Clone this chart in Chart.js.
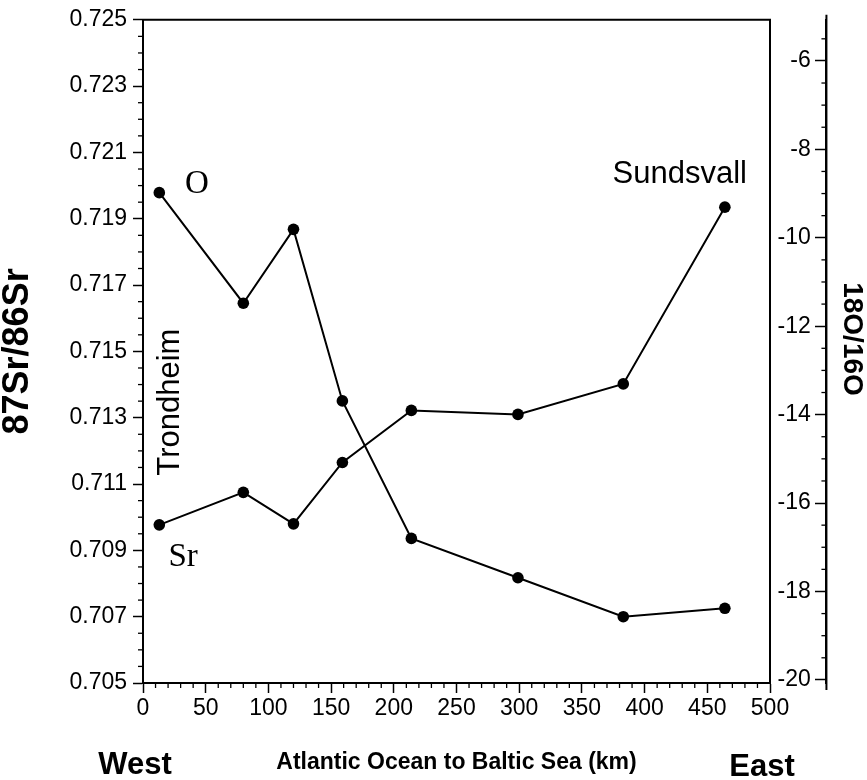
<!DOCTYPE html>
<html><head><meta charset="utf-8">
<script src="https://cdn.jsdelivr.net/npm/chart.js@4.4.1/dist/chart.umd.min.js"></script>
<style>html,body{margin:0;padding:0;background:#fff}canvas{display:block}</style>
</head><body>
<canvas id="c" width="867" height="780"></canvas>
<script>
// ---- data ----
const distanceKm = [13, 80, 120, 159, 214, 299, 383, 464];
const srRatio    = [0.70977, 0.71075, 0.70980, 0.71165, 0.71322, 0.71310, 0.71402, 0.71935];
const oRatio     = [-8.98, -11.48, -9.81, -13.69, -16.80, -17.69, -18.57, -18.38];
const xTicks  = [0, 50, 100, 150, 200, 250, 300, 350, 400, 450, 500];
const srTicks = [0.705, 0.707, 0.709, 0.711, 0.713, 0.715, 0.717, 0.719, 0.721, 0.723, 0.725];
const oTicks  = [-20, -18, -16, -14, -12, -10, -8, -6];

const SANS = "'Liberation Sans', Arial, Helvetica, sans-serif";
const SERIF = "'Liberation Serif', 'Times New Roman', serif";

// in-plot labels placed in data units
const plotLabels = [
  {text: 'O',         x: 43,   y: 0.72005, font: '33px ' + SERIF, rot: 0},
  {text: 'Sr',        x: 32,   y: 0.70878, font: '33px ' + SERIF, rot: 0},
  {text: 'Trondheim', x: 21.5, y: 0.71347, font: '31px ' + SANS,  rot: -Math.PI / 2},
  {text: 'Sundsvall', x: 428,  y: 0.72035, font: '31px ' + SANS,  rot: 0}
];

const O_AXIS_AT = 545;        // x-value (km) where the 18O/16O axis line stands
const O_LABELS_AT = 532.5;    // x-value (km) of the right edge of its tick labels

const decor = {
  id: 'decor',
  afterDraw(chart) {
    const {ctx, chartArea: a, scales} = chart;
    const x = scales.x, y = scales.y, y2 = scales.y2;
    ctx.save();
    ctx.strokeStyle = '#000';
    ctx.fillStyle = '#000';
    const line = (x1, y1, x2, y2_) => { ctx.beginPath(); ctx.moveTo(x1, y1); ctx.lineTo(x2, y2_); ctx.stroke(); };
    // frame: top and right border
    ctx.lineWidth = 2;
    ctx.beginPath(); ctx.moveTo(a.left - 1, a.top); ctx.lineTo(a.right, a.top); ctx.lineTo(a.right, a.bottom); ctx.stroke();
    // right axis line extension
    const axX = x.getPixelForValue(O_AXIS_AT);
    line(axX, a.top - 5, axX, a.bottom + 7);
    // minor ticks
    ctx.lineWidth = 1.3;
    for (let v = 0; v <= 500; v += 10) {
      if (v % 50 === 0) continue;
      const px = x.getPixelForValue(v);
      line(px, a.bottom, px, a.bottom + 5);
    }
    for (let i = 0; i <= 40; i++) {
      if (i % 4 === 0) continue;
      const py = y.getPixelForValue(0.705 + i * 0.0005);
      line(a.left - 5, py, a.left, py);
    }
    for (let i = 0; i <= 29; i++) {
      if (i % 4 === 0) continue;
      const py = y2.getPixelForValue(-20 + i * 0.5);
      line(axX - 5, py, axX, py);
    }
    // in-plot labels
    ctx.textAlign = 'center';
    ctx.textBaseline = 'middle';
    plotLabels.forEach(l => {
      ctx.save();
      ctx.font = l.font;
      ctx.translate(x.getPixelForValue(l.x), y.getPixelForValue(l.y));
      ctx.rotate(l.rot);
      ctx.fillText(l.text, 0, 0);
      ctx.restore();
    });
    // outer labels
    ctx.font = 'bold 31px ' + SANS;
    ctx.fillText('West', 135, 765);
    ctx.fillText('East', 762, 767);
    ctx.save();
    ctx.font = 'bold 28px ' + SANS;
    ctx.translate(852, 339);
    ctx.rotate(Math.PI / 2);
    ctx.fillText('18O/16O', 0, 0);
    ctx.restore();
    ctx.restore();
  }
};

const lineStyle = {
  borderColor: '#000', backgroundColor: '#000', borderWidth: 2,
  pointRadius: 5.8, pointBackgroundColor: '#000', pointBorderWidth: 0, tension: 0
};

new Chart(document.getElementById('c'), {
  type: 'line',
  data: {
    datasets: [
      Object.assign({label: 'Sr', yAxisID: 'y', data: distanceKm.map((d, i) => ({x: d, y: srRatio[i]}))}, lineStyle),
      Object.assign({label: 'O', yAxisID: 'y2', data: distanceKm.map((d, i) => ({x: d, y: oRatio[i]}))}, lineStyle)
    ]
  },
  options: {
    responsive: false,
    animation: false,
    devicePixelRatio: 1,
    layout: {padding: {left: 0, top: 17, right: 97, bottom: 0}},
    plugins: {legend: {display: false}, tooltip: {enabled: false}},
    scales: {
      x: {
        type: 'linear', position: 'bottom', min: 0, max: 500,
        afterBuildTicks: s => { s.ticks = xTicks.map(v => ({value: v})); },
        afterFit: s => { s.height = 97; },
        grid: {drawOnChartArea: false, tickLength: 10, tickWidth: 1.5, tickColor: '#000'},
        border: {color: '#000', width: 2},
        ticks: {color: '#000', font: {family: SANS, size: 23}, padding: 2, maxRotation: 0, autoSkip: false},
        title: {display: true, text: 'Atlantic Ocean to Baltic Sea (km)', color: '#000',
                font: {family: SANS, size: 23, weight: 'bold'}, padding: {top: 0, bottom: 4}}
      },
      y: {
        type: 'linear', position: 'left', min: 0.705, max: 0.725,
        afterBuildTicks: s => { s.ticks = srTicks.map(v => ({value: v})); },
        afterFit: s => { s.width = 143; },
        grid: {drawOnChartArea: false, tickLength: 10, tickWidth: 1.5, tickColor: '#000'},
        border: {color: '#000', width: 2},
        ticks: {color: '#000', font: {family: SANS, size: 23}, padding: 6,
                callback: v => Number(v).toFixed(3)},
        title: {display: true, text: '87Sr/86Sr', color: '#000',
                font: {family: SANS, size: 36, weight: 'bold', lineHeight: 1}, padding: 0}
      },
      y2: {
        type: 'linear', position: {x: O_AXIS_AT}, min: -20.07, max: -5.07,
        afterBuildTicks: s => { s.ticks = oTicks.map(v => ({value: v})); },
        grid: {drawOnChartArea: false, tickLength: 10, tickWidth: 1.5, tickColor: '#000'},
        border: {color: '#000', width: 2},
        ticks: {display: false},
        title: {display: false}
      },
      y3: {
        type: 'linear', position: {x: O_LABELS_AT}, min: -20.07, max: -5.07,
        afterBuildTicks: s => { s.ticks = oTicks.map(v => ({value: v})); },
        grid: {display: false},
        border: {display: false},
        ticks: {color: '#000', font: {family: SANS, size: 23}},
        title: {display: false}
      }
    }
  },
  plugins: [decor]
});
</script>
</body></html>
